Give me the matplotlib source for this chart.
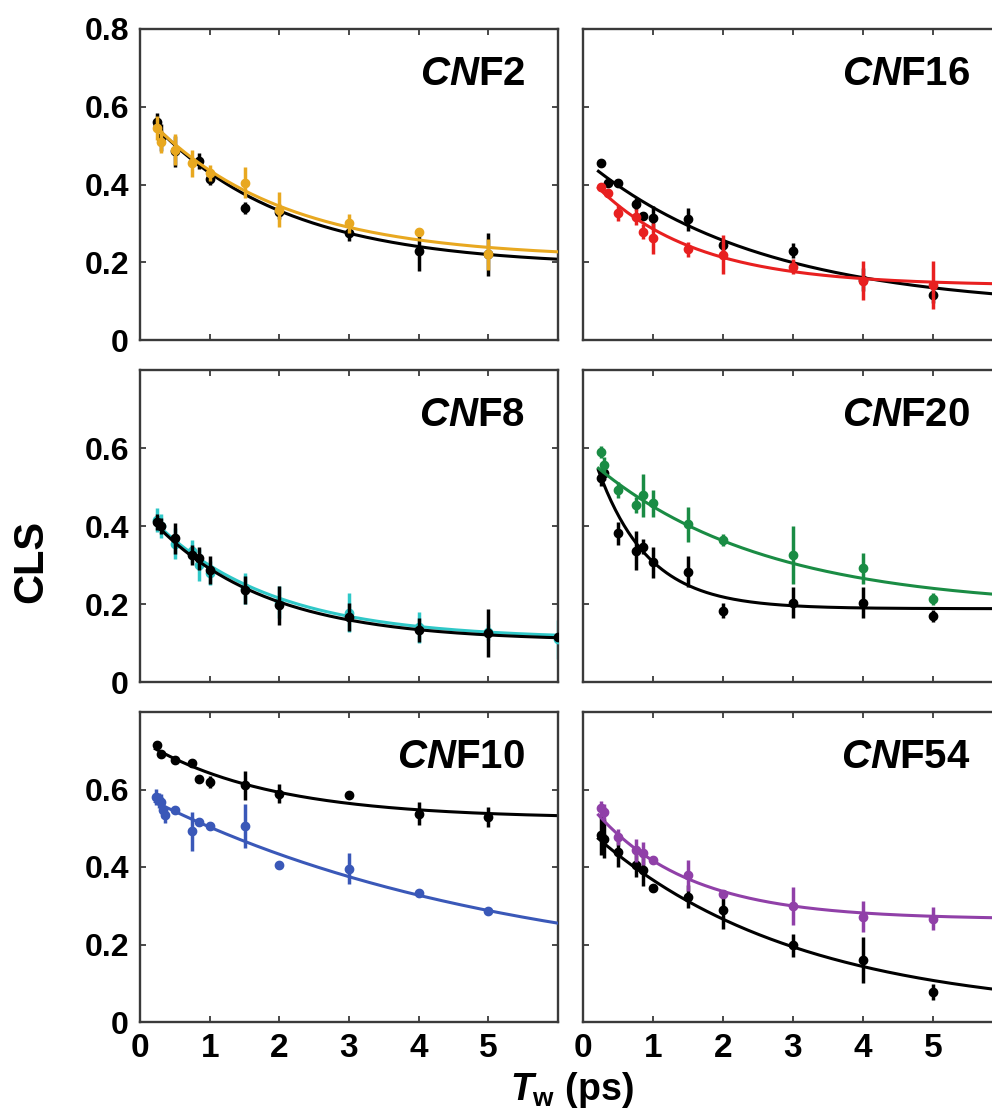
import numpy as np
import matplotlib
matplotlib.use('Agg')
import matplotlib.pyplot as plt

plt.rcParams['font.family'] = ['Liberation Sans', 'DejaVu Sans']
plt.rcParams['font.weight'] = 'bold'
plt.rcParams['mathtext.fontset'] = 'custom'
plt.rcParams['mathtext.it'] = 'Liberation Sans:italic:bold'
plt.rcParams['mathtext.rm'] = 'Liberation Sans:bold'
plt.rcParams['mathtext.bf'] = 'Liberation Sans:bold'

# ---- data ----
# CNF2
t_cnf2_col = [0.25, 0.3, 0.5, 0.75, 1, 1.5, 2, 3, 4, 5]
y_cnf2_col = [0.545, 0.51, 0.49, 0.455, 0.43, 0.405, 0.335, 0.30, 0.278, 0.22]
e_cnf2_col = [0.03, 0.03, 0.04, 0.035, 0.02, 0.04, 0.045, 0.025, 0.01, 0.04]
t_cnf2_blk = [0.25, 0.3, 0.5, 0.85, 1, 1.5, 2, 3, 4, 5]
y_cnf2_blk = [0.56, 0.52, 0.485, 0.46, 0.415, 0.34, 0.33, 0.275, 0.228, 0.22]
e_cnf2_blk = [0.025, 0.035, 0.04, 0.02, 0.015, 0.015, 0.02, 0.02, 0.05, 0.055]
# CNF16
t_cnf16 = [0.25, 0.35, 0.5, 0.75, 0.85, 1, 1.5, 2, 3, 4, 5]
y_cnf16_blk = [0.455, 0.405, 0.405, 0.35, 0.32, 0.315, 0.31, 0.245, 0.23, 0.155, 0.115]
e_cnf16_blk = [0.01, 0.01, 0.01, 0.015, 0.01, 0.03, 0.03, 0.015, 0.02, 0.03, 0.02]
y_cnf16_col = [0.393, 0.379, 0.326, 0.317, 0.279, 0.262, 0.233, 0.219, 0.189, 0.153, 0.141]
e_cnf16_col = [0.01, 0.01, 0.02, 0.02, 0.02, 0.04, 0.02, 0.05, 0.02, 0.05, 0.062]
# CNF8
t_cnf8 = [0.25, 0.3, 0.5, 0.75, 0.85, 1, 1.5, 2, 3, 4, 5, 6]
y_cnf8_blk = [0.41, 0.4, 0.368, 0.326, 0.317, 0.287, 0.236, 0.197, 0.167, 0.133, 0.125, 0.116]
e_cnf8_blk = [0.02, 0.02, 0.04, 0.025, 0.03, 0.035, 0.035, 0.05, 0.035, 0.03, 0.062, 0.005]
y_cnf8_col = [0.415, 0.4, 0.355, 0.335, 0.3, 0.28, 0.24, 0.205, 0.177, 0.14, 0.128, 0.11]
e_cnf8_col = [0.03, 0.03, 0.04, 0.03, 0.04, 0.03, 0.04, 0.04, 0.05, 0.04, 0.02, 0.05]
# CNF20
t_cnf20 = [0.25, 0.3, 0.5, 0.75, 0.85, 1, 1.5, 2, 3, 4, 5]
y_cnf20_col = [0.59, 0.556, 0.492, 0.454, 0.479, 0.458, 0.405, 0.364, 0.326, 0.292, 0.213]
e_cnf20_col = [0.015, 0.02, 0.02, 0.02, 0.055, 0.035, 0.045, 0.015, 0.074, 0.04, 0.015]
y_cnf20_blk = [0.522, 0.537, 0.381, 0.336, 0.347, 0.307, 0.283, 0.183, 0.203, 0.203, 0.170]
e_cnf20_blk = [0.02, 0.02, 0.03, 0.05, 0.02, 0.04, 0.04, 0.02, 0.04, 0.04, 0.015]
# CNF10
t_cnf10_blk = [0.25, 0.3, 0.5, 0.75, 0.85, 1, 1.5, 2, 3, 4, 5]
y_cnf10_blk = [0.714, 0.692, 0.675, 0.668, 0.628, 0.619, 0.611, 0.589, 0.585, 0.538, 0.529]
e_cnf10_blk = [0.005, 0.005, 0.005, 0.01, 0.005, 0.015, 0.038, 0.025, 0.0, 0.03, 0.025]
t_cnf10_col = [0.23, 0.27, 0.3, 0.33, 0.36, 0.5, 0.75, 0.85, 1, 1.5, 2, 3, 4, 5]
y_cnf10_col = [0.581, 0.572, 0.568, 0.546, 0.534, 0.546, 0.492, 0.516, 0.506, 0.505, 0.405, 0.396, 0.333, 0.287]
e_cnf10_col = [0.02, 0.02, 0.02, 0.02, 0.02, 0.01, 0.05, 0.01, 0.01, 0.057, 0.005, 0.04, 0.005, 0.005]
# CNF54
t_cnf54 = [0.25, 0.3, 0.5, 0.75, 0.85, 1, 1.5, 2, 3, 4, 5]
y_cnf54_col = [0.551, 0.542, 0.478, 0.443, 0.435, 0.419, 0.379, 0.33, 0.299, 0.271, 0.267]
e_cnf54_col = [0.02, 0.02, 0.02, 0.03, 0.03, 0.01, 0.04, 0.01, 0.049, 0.04, 0.03]
y_cnf54_blk = [0.482, 0.473, 0.439, 0.405, 0.392, 0.345, 0.323, 0.289, 0.198, 0.16, 0.078]
e_cnf54_blk = [0.05, 0.05, 0.04, 0.03, 0.04, 0.01, 0.03, 0.05, 0.03, 0.059, 0.02]

# exponential fit parameters (amplitude, tau in ps, offset)
fit_cnf2 = {'col': (0.381, 1.92, 0.21), 'blk': (0.404, 1.92, 0.19)}
fit_cnf16 = {'col': (0.293, 1.43, 0.14), 'blk': (0.386, 2.55, 0.08)}
fit_cnf8 = {'col': (0.34, 1.70, 0.11), 'blk': (0.344, 1.62, 0.105)}
fit_cnf20 = {'col': (0.392, 2.43, 0.19), 'blk': (0.482, 0.72, 0.188)}
fit_cnf10 = {'col': (0.488, 5.23, 0.10), 'blk': (0.203, 1.82, 0.525)}
fit_cnf54 = {'col': (0.317, 1.35, 0.265), 'blk': (0.489, 2.90, 0.02)}

panels = [
    ('F2', '#E8A820', t_cnf2_col, y_cnf2_col, e_cnf2_col, t_cnf2_blk, y_cnf2_blk, e_cnf2_blk, fit_cnf2, False),
    ('F16', '#E82020', t_cnf16, y_cnf16_col, e_cnf16_col, t_cnf16, y_cnf16_blk, e_cnf16_blk, fit_cnf16, False),
    ('F8', '#30C8C8', t_cnf8, y_cnf8_col, e_cnf8_col, t_cnf8, y_cnf8_blk, e_cnf8_blk, fit_cnf8, True),
    ('F20', '#1A8C44', t_cnf20, y_cnf20_col, e_cnf20_col, t_cnf20, y_cnf20_blk, e_cnf20_blk, fit_cnf20, False),
    ('F10', '#3A58B8', t_cnf10_col, y_cnf10_col, e_cnf10_col, t_cnf10_blk, y_cnf10_blk, e_cnf10_blk, fit_cnf10, False),
    ('F54', '#9040A8', t_cnf54, y_cnf54_col, e_cnf54_col, t_cnf54, y_cnf54_blk, e_cnf54_blk, fit_cnf54, False),
]

W, H = 992, 1117
fig = plt.figure(figsize=(W / 100, H / 100), dpi=100)

col_x = [(140, 558), (583, 1003)]
row_y = [(29, 340), (370, 682), (712, 1022)]

tt = np.linspace(0.22, 6.3, 300)

for i, (name, color, tc, yc, ec, tb, yb, eb, fit, black_top) in enumerate(panels):
    r, c = divmod(i, 2)
    x0, x1 = col_x[c]
    y0, y1 = row_y[r]
    ax = fig.add_axes([x0 / W, (H - y1) / H, (x1 - x0) / W, (y1 - y0) / H])
    ax.set_xlim(0, 6)
    ax.set_ylim(0, 0.8)

    def draw_col(z):
        a, tau, off = fit['col']
        ax.plot(tt, off + a * np.exp(-tt / tau), color=color, lw=2.2, zorder=z)
        ax.errorbar(tc, yc, yerr=ec, fmt='o', color=color, ms=6, elinewidth=2.5,
                    capsize=0, zorder=z + 0.5)

    def draw_blk(z):
        a, tau, off = fit['blk']
        ax.plot(tt, off + a * np.exp(-tt / tau), color='black', lw=2.2, zorder=z)
        ax.errorbar(tb, yb, yerr=eb, fmt='o', color='black', ms=6, elinewidth=2.5,
                    capsize=0, zorder=z + 0.5)

    if black_top:
        draw_col(2)
        draw_blk(3)
    else:
        draw_blk(2)
        draw_col(3)

    ax.text(5.53, 0.855 * 0.8, r'$\mathit{CN}$' + name, ha='right', va='center',
            fontsize=29, fontweight='bold', color='black')

    for s in ax.spines.values():
        s.set_linewidth(1.7)
        s.set_color('#3a3a3a')
    ax.tick_params(direction='in', length=4, width=1.3, color='#3a3a3a',
                   top=True, right=True, labelsize=22, pad=8)
    ax.set_xticks([1, 2, 3, 4, 5])
    ax.set_yticks([0.2, 0.4, 0.6])

    if r == 2:
        ax.set_xticks([0, 1, 2, 3, 4, 5])
        ax.set_xticklabels(['0', '1', '2', '3', '4', '5'], fontsize=24, fontweight='bold')
    else:
        ax.set_xticklabels([])

    if c == 0:
        if r == 0:
            ax.set_yticks([0, 0.2, 0.4, 0.6, 0.8])
            ax.set_yticklabels(['0', '0.2', '0.4', '0.6', '0.8'], fontsize=23, fontweight='bold')
        else:
            ax.set_yticks([0, 0.2, 0.4, 0.6])
            ax.set_yticklabels(['0', '0.2', '0.4', '0.6'], fontsize=23, fontweight='bold')
    else:
        ax.set_yticklabels([])

fig.text(31 / W, (H - 561) / H, 'CLS', rotation=90, ha='center', va='center',
         fontsize=30, fontweight='bold')
fig.text(572 / W, (H - 1090) / H, r'$\mathit{T}_{\mathrm{w}}$ (ps)', ha='center', va='center',
         fontsize=27, fontweight='bold')

fig.savefig('out.png', dpi=100)
